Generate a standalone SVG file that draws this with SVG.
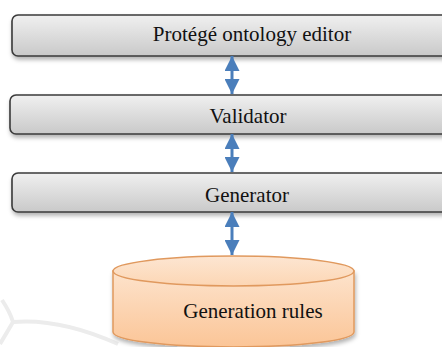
<svg xmlns="http://www.w3.org/2000/svg" width="442" height="347" viewBox="0 0 442 347">
<defs>
<linearGradient id="boxg" x1="0" y1="0" x2="0" y2="1">
<stop offset="0" stop-color="#f0f0f0"/>
<stop offset="1" stop-color="#c9c9c9"/>
</linearGradient>
<linearGradient id="cylg" x1="0" y1="0" x2="0" y2="1">
<stop offset="0" stop-color="#fde3cc"/>
<stop offset="1" stop-color="#fbc597"/>
</linearGradient>
<linearGradient id="topg" x1="0" y1="0" x2="0" y2="1">
<stop offset="0" stop-color="#fde6d2"/>
<stop offset="1" stop-color="#fcd6b4"/>
</linearGradient>
<filter id="sh" x="-5%" y="-20%" width="110%" height="160%">
<feDropShadow dx="1" dy="3" stdDeviation="2" flood-color="#000" flood-opacity="0.3"/>
</filter>
<marker id="ah" viewBox="0 0 16 15" refX="15" refY="7.5" markerWidth="16" markerHeight="15" markerUnits="userSpaceOnUse" orient="auto-start-reverse">
<path d="M0,0 L15,7.5 L0,15 Z" fill="#4a7ebb"/>
</marker>
<style>
.box{fill:url(#boxg);stroke:#3a3a3a;stroke-width:1.6;filter:url(#sh)}
.lbl{font-family:"Liberation Serif","Times New Roman",serif;font-size:21px;fill:#111;text-anchor:middle}
.conn{stroke:#4a7ebb;stroke-width:3;fill:none;marker-start:url(#ah);marker-end:url(#ah)}
.cyl{fill:url(#cylg);stroke:#e0995e;stroke-width:1.5}
</style>
</defs>
<path d="M2,300 Q10,312 13,322 Q6,334 0,344 M13,322 Q60,318 118,344" fill="none" stroke="#ececec" stroke-width="4"/>
<g id="node-protege">
<rect class="box" x="12" y="15" width="480" height="41" rx="6"/>
<text class="lbl" x="252" y="41">Protégé ontology editor</text>
</g>
<g id="node-validator">
<rect class="box" x="10" y="95" width="482" height="39" rx="6"/>
<text class="lbl" x="248" y="122.5">Validator</text>
</g>
<g id="node-generator">
<rect class="box" x="12" y="173" width="480" height="39" rx="6"/>
<text class="lbl" x="247" y="201.5">Generator</text>
</g>
<g id="node-rules">
<path class="cyl" d="M113,271 L113,332 A120.5,15 0 0 0 354,332 L354,271 Z" filter="url(#sh)"/>
<ellipse cx="233.5" cy="271" rx="120.5" ry="15" fill="url(#topg)" stroke="#e0995e" stroke-width="1.5"/>
<text class="lbl" x="253" y="318.3">Generation rules</text>
</g>
<g id="connectors">
<line class="conn" x1="232" y1="56" x2="232" y2="94"/>
<line class="conn" x1="232" y1="134" x2="232" y2="172"/>
<line class="conn" x1="232" y1="212" x2="232" y2="255"/>
</g>
</svg>
